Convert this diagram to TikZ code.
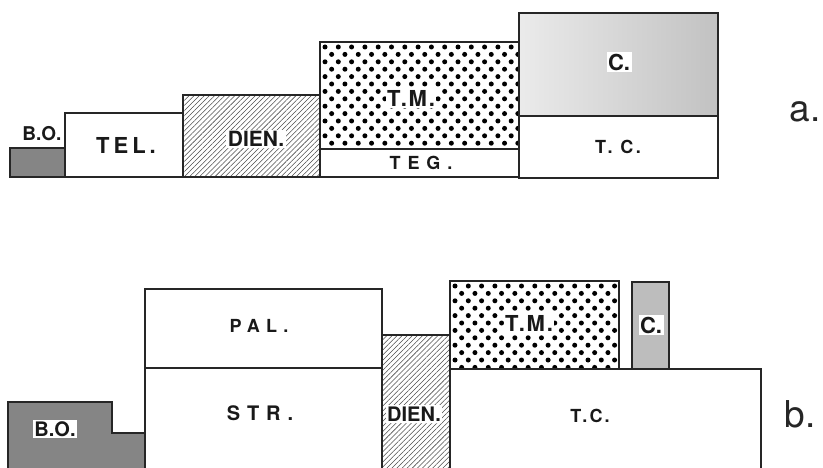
\documentclass[tikz,border=0pt]{standalone}
\usepackage{fontspec}
\setmainfont{TeX Gyre Heros}
\usetikzlibrary{patterns.meta}
\newcommand{\trk}[2]{{\addfontfeature{LetterSpace=#1}#2}}
\newcommand{\fs}[1]{\bfseries\fontsize{#1}{#1}\selectfont}
\begin{document}
\begin{tikzpicture}[x=1pt,y=-1pt,
  edge/.style={line width=1.3pt,draw=black!85},
  hatch/.style={pattern={Lines[angle=45,distance=3.6pt,line width=0.55pt]},pattern color=black!70},
  dotfill/.style={fill=black},
  darkfill/.style={fill=black!48},
  lab/.style={inner sep=1pt,text=black!90},
  wlab/.style={lab,fill=white,inner sep=1.5pt},
  letter/.style={font=\fontsize{37}{37}\selectfont,inner sep=0pt,text=black!85}]
\useasboundingbox (0,0) rectangle (823,468);
% ---------- a. ----------
\fill[darkfill] (10,148) rectangle (65,177);
\fill[hatch] (183,95) rectangle (320,177);
\begin{scope}
  \clip (320,42) rectangle (519,149);
  \foreach \k in {0,...,14} {
    \foreach \j in {0,...,15} {
      \fill[dotfill] ({325+\j*13.3+mod(\k,2)*6.65},{47+\k*7.4}) circle (2.5);
    }
  }
\end{scope}
\shade[left color=black!8,right color=black!24] (519,13) rectangle (718,116);
\draw[edge] (10,148) rectangle (65,177);
\draw[edge] (65,113) rectangle (183,177);
\draw[edge] (183,95) rectangle (320,177);
\draw[edge] (320,42) rectangle (519,149);
\draw[edge] (320,149) rectangle (519,177);
\draw[edge] (519,13) rectangle (718,116);
\draw[edge] (519,116) rectangle (718,178);
\node[lab,font=\fs{19}] (boa) at (42,134) {B.O.};
\node[lab,font=\fs{22}] (tel) at (126,145) {\trk{18}{TEL.}};
\node[wlab,font=\fs{21}] (diena) at (256,139) {DIEN.};
\node[wlab,font=\fs{22}] (tma) at (411,98) {\trk{8}{T.M.}};
\node[lab,font=\fs{18}] (teg) at (421,163) {\trk{38}{TEG.}};
\node[wlab,font=\fs{22}] (ca) at (619,62) {C.};
\node[lab,font=\fs{18}] (tca) at (618,147) {\trk{15}{T. C.}};
\node[letter,anchor=base] (la) at (805,122) {a.};
% ---------- b. ----------
\fill[darkfill] (8,470) -- (8,402) -- (112,402) -- (112,433) -- (145,433) -- (145,470) -- cycle;
\fill[hatch] (382,335) rectangle (450,470);
\begin{scope}
  \clip (450,281) rectangle (619,369);
  \foreach \k in {0,...,12} {
    \foreach \j in {0,...,13} {
      \fill[dotfill] ({455+\j*13.3+mod(\k,2)*6.65},{286+\k*7.4}) circle (2.5);
    }
  }
\end{scope}
\fill[black!26] (632,282) rectangle (669,369);
\draw[edge] (8,470) -- (8,402) -- (112,402) -- (112,433) -- (145,433);
\draw[edge] (145,470) -- (145,289) -- (382,289) -- (382,470);
\draw[edge] (145,368) -- (382,368);
\draw[edge] (382,335) -- (450,335) -- (450,470);
\draw[edge] (450,369) -- (450,281) -- (619,281) -- (619,369);
\draw[edge] (632,369) -- (632,282) -- (669,282) -- (669,369);
\draw[edge] (450,369) -- (761,369) -- (761,470);
\node[lab,font=\fs{18}] (pal) at (259,326) {\trk{35}{PAL.}};
\node[lab,font=\fs{20}] (str) at (260,413) {\trk{35}{STR.}};
\node[wlab,font=\fs{20}] (bob) at (55,429) {B.O.};
\node[wlab,font=\fs{20}] (dienb) at (414,414) {DIEN.};
\node[wlab,font=\fs{22}] (tmb) at (529,323) {\trk{8}{T.M.}};
\node[wlab,font=\fs{22}] (cb) at (651,325) {C.};
\node[lab,font=\fs{18}] (tcb) at (590,416) {\trk{12}{T.C.}};
\node[letter,anchor=base] (lb) at (800,427) {b.};
\end{tikzpicture}
\end{document}
